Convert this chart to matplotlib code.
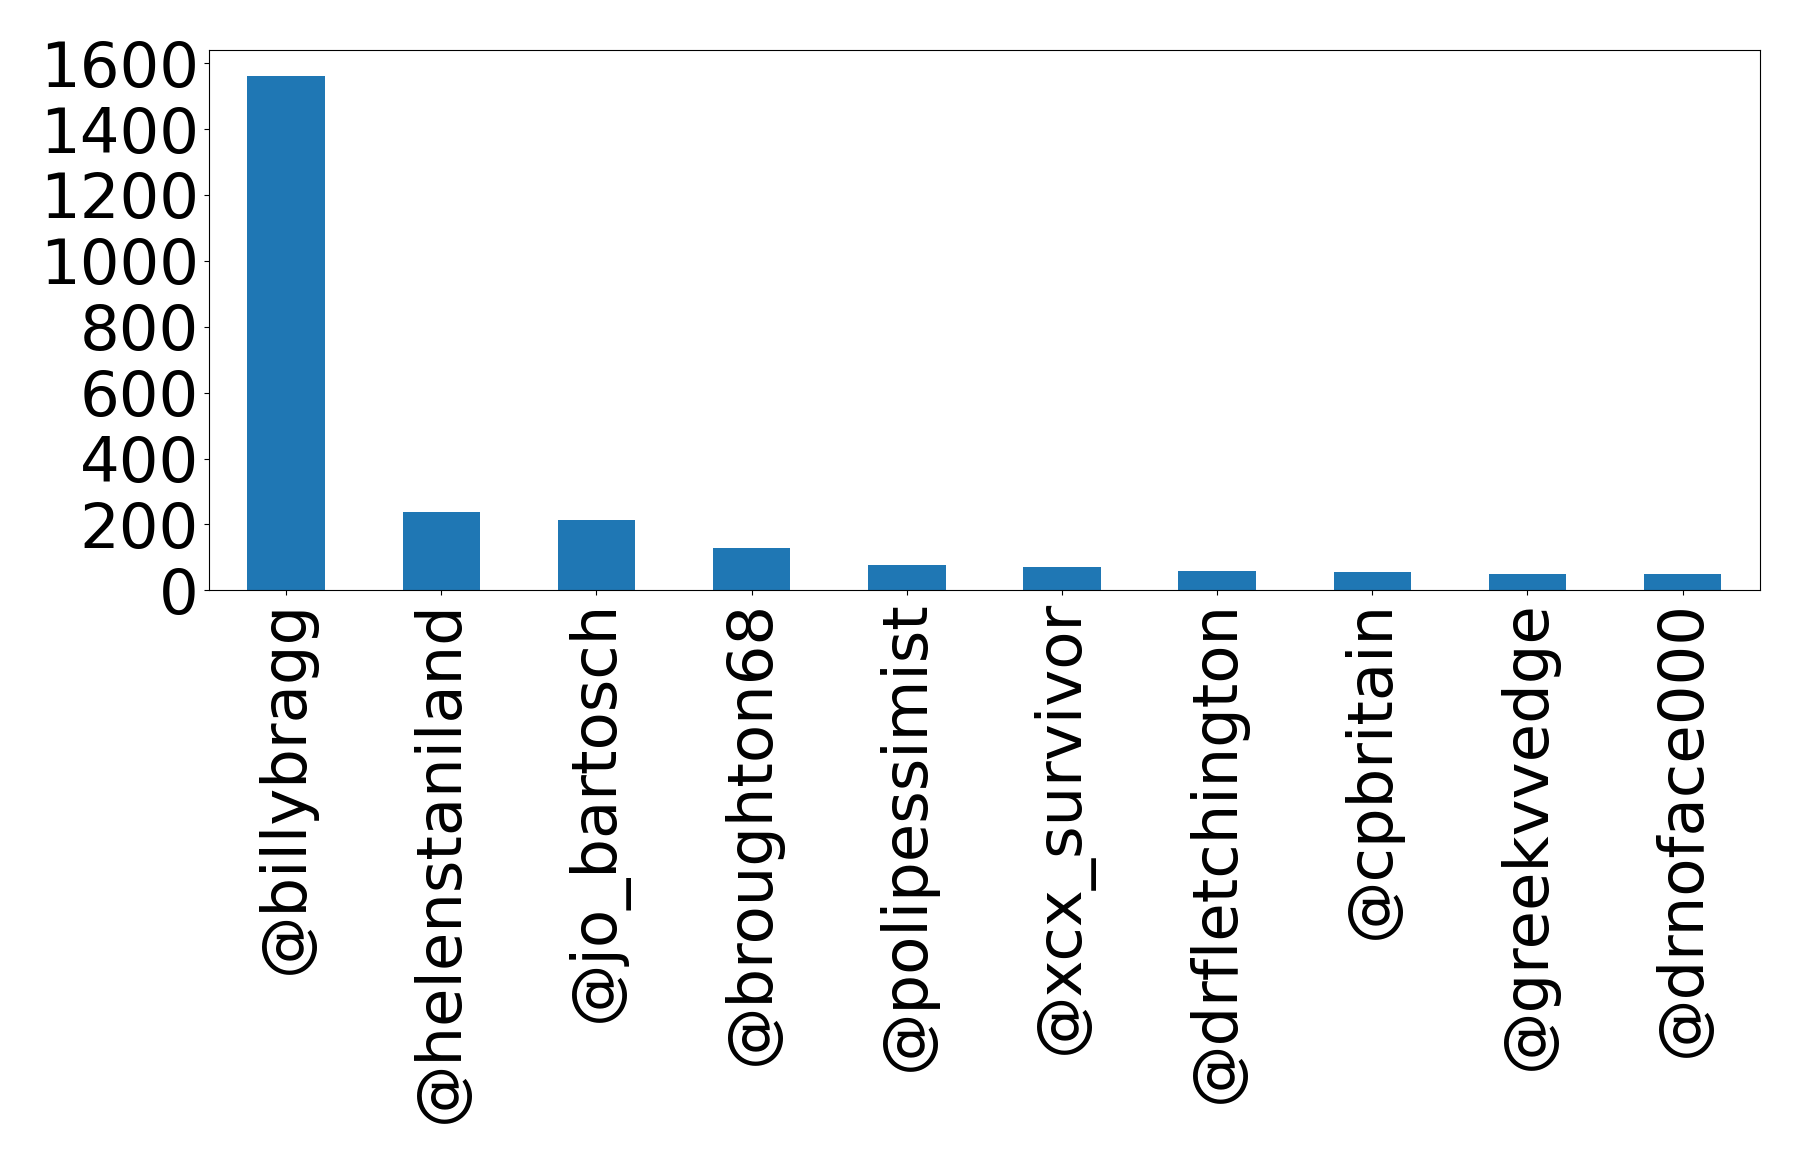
import matplotlib
matplotlib.use("Agg")
import matplotlib.pyplot as plt

users = ["@billybragg", "@helenstaniland", "@jo_bartosch", "@broughton68",
         "@polipessimist", "@xcx_survivor", "@drfletchington", "@cpbritain",
         "@greekvvedge", "@drnoface000"]
counts = [1562, 237, 213, 128, 76, 70, 58, 55, 49, 49]

fig = plt.figure(figsize=(17.98, 11.62), dpi=100)
ax = fig.add_axes([0.116, 0.492, 0.863, 0.465])
x = list(range(len(users)))
ax.bar(x, counts, width=0.5, color="#1f77b4")
ax.set_xlim(-0.5, len(users) - 0.5)
ax.set_xticks(x)
ax.set_xticklabels(users, rotation=90, fontsize=45)
ax.tick_params(axis="y", labelsize=45)
ax.set_yticks([0, 200, 400, 600, 800, 1000, 1200, 1400, 1600])
fig.savefig("out.png", dpi=100)
